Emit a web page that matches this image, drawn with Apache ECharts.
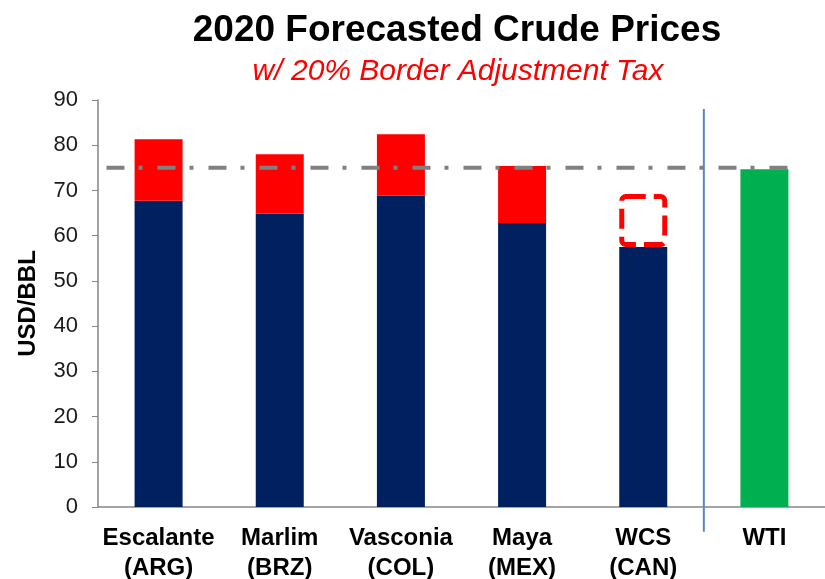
<!DOCTYPE html>
<html>
<head>
<meta charset="utf-8">
<script src="https://cdn.jsdelivr.net/npm/echarts@6/dist/echarts.min.js"></script>
<style>
  html, body { margin: 0; padding: 0; background: #fff; }
  #chart { width: 825px; height: 579px; }
</style>
</head>
<body>
<div id="chart"></div>
<script>
// crude grades on the x axis
const categories = ['Escalante\n(ARG)', 'Marlim\n(BRZ)', 'Vasconia\n(COL)', 'Maya\n(MEX)', 'WCS\n(CAN)', 'WTI'];
// forecast price before tax
const basePrice = [67.7, 64.9, 68.8, 62.8, 57.5, null];
// extra from 20% border adjustment tax
const taxAdd = [13.6, 13.1, 13.6, 12.6, null, null];
// WCS: dashed outline only
const wcsTax = [null, null, null, null, 11.7, null];
const wtiPrice = [null, null, null, null, null, 74.7];
// WTI reference line (x in category units on a hidden value axis)
const refLine = [[0.07, 75], [5.72, 75]];
// divider between imported grades and WTI
const divider = [[5, -5.5], [5, 88]];
const yTicks = { min: 0, max: 90, interval: 10 };

const chart = echarts.init(document.getElementById('chart'));

const option = {
  animation: false,
  title: [
    {
      text: '2020 Forecasted Crude Prices',
      left: 452,
      textAlign: 'center',
      top: 7,
      textStyle: { fontFamily: 'Liberation Sans', fontWeight: 'bold', fontSize: 37, color: '#000' }
    },
    {
      text: 'w/ 20% Border Adjustment Tax',
      left: 453,
      textAlign: 'center',
      top: 52,
      textStyle: { fontFamily: 'Liberation Sans', fontStyle: 'italic', fontWeight: 'normal', fontSize: 30, color: '#ff0000' }
    }
  ],
  grid: { left: 98, right: 0, top: 100, bottom: 72, outerBoundsMode: 'none' },
  xAxis: [
    {
      type: 'category',
      data: categories,
      axisLine: { lineStyle: { color: '#868686', width: 1.5 } },
      axisTick: { length: 10, lineStyle: { color: '#868686' } },
      axisLabel: {
        interval: 0,
        color: '#000',
        fontFamily: 'Liberation Sans',
        fontWeight: 'bold',
        fontSize: 24,
        lineHeight: 30,
        margin: 16
      }
    },
    { type: 'value', min: 0, max: 6, show: false }
  ],
  yAxis: {
    type: 'value',
    min: yTicks.min,
    max: yTicks.max,
    interval: yTicks.interval,
    name: 'USD/BBL',
    nameLocation: 'middle',
    nameRotate: 90,
    nameGap: 58,
    nameTextStyle: { fontFamily: 'Liberation Sans', fontWeight: 'bold', fontSize: 24, color: '#000' },
    splitLine: { show: false },
    axisLine: { show: true, lineStyle: { color: '#868686', width: 1.5 } },
    axisTick: { show: true, length: 6, lineStyle: { color: '#868686' } },
    axisLabel: { color: '#1a1a1a', fontFamily: 'Liberation Sans', fontSize: 22, margin: 20 }
  },
  series: [
    {
      name: 'Base',
      type: 'bar',
      stack: 'p',
      barWidth: 48,
      data: basePrice,
      itemStyle: { color: '#002060' }
    },
    {
      name: 'Tax',
      type: 'bar',
      stack: 'p',
      data: taxAdd,
      itemStyle: { color: '#ff0000' }
    },
    {
      name: 'WCS tax',
      type: 'bar',
      stack: 'p',
      data: wcsTax,
      itemStyle: {
        color: 'rgba(0,0,0,0)',
        borderColor: '#ff0000',
        borderWidth: 5,
        borderType: [20, 8],
        borderRadius: 4
      }
    },
    {
      name: 'WTI',
      type: 'bar',
      stack: 'p',
      data: wtiPrice,
      itemStyle: { color: '#00b050' }
    },
    {
      name: 'ref',
      type: 'line',
      xAxisIndex: 1,
      data: refLine,
      symbol: 'none',
      z: 5,
      lineStyle: { color: '#808080', width: 4, type: [18, 14, 4, 15] }
    },
    {
      name: 'divider',
      type: 'line',
      xAxisIndex: 1,
      data: divider,
      symbol: 'none',
      clip: false,
      lineStyle: { color: '#5b86c5', width: 2, type: 'solid' }
    }
  ]
};

chart.setOption(option);
</script>
</body>
</html>
